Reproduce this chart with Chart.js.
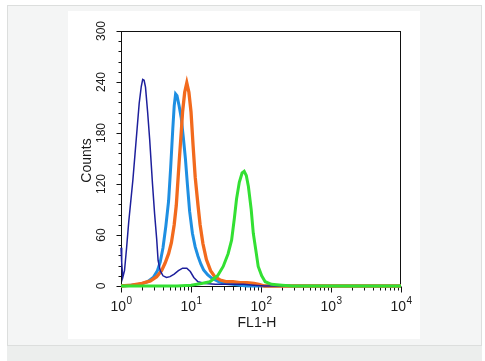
<!DOCTYPE html>
<html>
<head>
<meta charset="utf-8">
<script src="https://cdn.jsdelivr.net/npm/chart.js@4"></script>
<style>
  html, body { margin: 0; padding: 0; background: #ffffff; width: 485px; height: 361px; overflow: hidden; }
  #box { position: absolute; left: 7px; top: 5px; width: 473px; height: 339px; border: 1px solid #dcdedd; background: #f4f5f5; }
  #band { position: absolute; left: 7px; top: 346px; width: 475px; height: 15px; background: #eceeed; }
  #panel { position: absolute; left: 68px; top: 11px; width: 352px; height: 328px; background: #ffffff; }
  canvas { position: absolute; left: 0; top: 0; }
</style>
</head>
<body>
<div id="box"></div>
<div id="band"></div>
<div id="panel"><canvas id="c" width="352" height="328"></canvas></div>
<script>
// ---- axis ticks / labels ----
const xTickValues = [1, 10, 100, 1000, 10000];
const xTickExponents = ['0', '1', '2', '3', '4'];
const yTickValues = [0, 60, 120, 180, 240, 300];
const yMinorStep = 12;
const xTitle = 'FL1-H';
const yTitle = 'Counts';

// ---- series (x given as log10 of FL1-H, y as counts) ----
const navyLog = [0, 0.01, 0.025, 0.05, 0.08, 0.11, 0.14, 0.17, 0.2, 0.23, 0.26, 0.29, 0.31, 0.33, 0.35, 0.38, 0.41, 0.45, 0.48, 0.51, 0.53, 0.56, 0.6, 0.65, 0.7, 0.76, 0.82, 0.88, 0.94, 0.99, 1.04, 1.1, 1.2, 1.35, 1.55, 1.75, 1.9, 2.05, 4];
const navyCounts = [45, 28, 10, 18, 45, 75, 100, 125, 155, 185, 215, 235, 243, 242, 234, 205, 172, 120, 85, 55, 30, 18, 12, 10, 11, 14, 18, 21, 21, 17, 10, 5, 3, 2, 2, 2, 1, 0, 0];

const blueLog = [0, 0.15, 0.27, 0.38, 0.46, 0.52, 0.56, 0.6, 0.64, 0.68, 0.71, 0.74, 0.76, 0.78, 0.8, 0.83, 0.86, 0.89, 0.92, 0.95, 0.98, 1.02, 1.06, 1.1, 1.14, 1.18, 1.24, 1.3, 1.4, 1.5, 1.6, 1.7, 1.8, 4];
const blueCounts = [0, 1, 2, 5, 10, 18, 28, 45, 70, 100, 140, 185, 212, 226, 224, 212, 198, 175, 150, 118, 88, 62, 46, 35, 26, 19, 13, 9, 5, 3, 2, 1, 0, 0];

const orangeLog = [0, 0.15, 0.3, 0.42, 0.51, 0.58, 0.63, 0.68, 0.72, 0.76, 0.79, 0.83, 0.86, 0.88, 0.91, 0.94, 0.97, 1.0, 1.03, 1.06, 1.1, 1.13, 1.17, 1.22, 1.28, 1.34, 1.42, 1.51, 1.6, 1.7, 1.8, 1.9, 1.97, 2.05, 4];
const orangeCounts = [0, 1, 3, 6, 11, 18, 27, 38, 51, 72, 95, 145, 180, 205, 228, 239, 228, 205, 165, 128, 95, 72, 50, 31, 18, 11, 7, 5, 5, 4, 4, 3, 2, 0, 0];

const greenLog = [0, 0.8, 1.0, 1.15, 1.27, 1.38, 1.46, 1.53, 1.58, 1.62, 1.65, 1.69, 1.73, 1.76, 1.79, 1.82, 1.86, 1.89, 1.93, 1.96, 2.01, 2.06, 2.15, 2.3, 2.45, 4];
const greenCounts = [0, 0, 1, 3, 5, 12, 23, 38, 54, 80, 102, 122, 133, 135, 130, 117, 90, 62, 40, 23, 12, 5, 2, 1, 0, 0];

function pts(logs, counts) {
  return logs.map((l, i) => ({ x: Math.pow(10, l), y: counts[i] }));
}

const FONT = "'Liberation Sans', Arial, Helvetica, sans-serif";

const axisPlugin = {
  id: 'axisDecor',
  beforeDatasetsDraw(chart) {
    const { ctx, chartArea: a, scales: { x, y } } = chart;
    const L = Math.round(a.left) + 0.5, R = Math.round(a.right) - 0.5;
    const T = Math.round(a.top) + 0.5, B = Math.round(a.bottom) + 0.5;
    ctx.save();
    ctx.strokeStyle = '#111111';
    ctx.lineWidth = 1;
    ctx.strokeRect(L, T, R - L, B - T);
    ctx.beginPath();
    const yMax = yTickValues[yTickValues.length - 1];
    for (let v = yTickValues[0]; v <= yMax; v += yMinorStep) {
      const py = Math.round(y.getPixelForValue(v)) + 0.5;
      const len = yTickValues.includes(v) ? 5 : 3;
      ctx.moveTo(L - len, py); ctx.lineTo(L, py);
    }
    xTickValues.forEach((d, i) => {
      const px = Math.round(x.getPixelForValue(d)) + 0.5;
      ctx.moveTo(px, B); ctx.lineTo(px, B + 6);
      if (i < xTickValues.length - 1) {
        for (let m = 2; m <= 9; m++) {
          const p = Math.round(x.getPixelForValue(d * m)) + 0.5;
          ctx.moveTo(p, B); ctx.lineTo(p, B + 4);
        }
      }
    });
    ctx.stroke();
    ctx.restore();
  },
  afterDraw(chart) {
    const { ctx, chartArea: a, scales: { x, y } } = chart;
    const L = Math.round(a.left) + 0.5;
    const B = Math.round(a.bottom) + 0.5;
    ctx.save();
    ctx.fillStyle = '#1a1a1a';
    // y tick labels (rotated)
    ctx.font = '12px ' + FONT;
    ctx.textAlign = 'center';
    ctx.textBaseline = 'middle';
    yTickValues.forEach(v => {
      const py = y.getPixelForValue(v);
      ctx.save();
      ctx.translate(L - 20, py);
      ctx.rotate(-Math.PI / 2);
      ctx.fillText(String(v), 0, 0);
      ctx.restore();
    });
    // y title
    ctx.font = '14px ' + FONT;
    ctx.save();
    ctx.translate(L - 34, (a.top + a.bottom) / 2 + 2);
    ctx.rotate(-Math.PI / 2);
    ctx.fillText(yTitle, 0, 0);
    ctx.restore();
    // x tick labels 10^n
    ctx.textAlign = 'left';
    ctx.textBaseline = 'alphabetic';
    xTickValues.forEach((d, i) => {
      const px = x.getPixelForValue(d);
      ctx.font = '14px ' + FONT;
      const wb = ctx.measureText('10').width;
      ctx.font = '10px ' + FONT;
      const ws = ctx.measureText(xTickExponents[i]).width;
      const start = px - (wb + ws) / 2;
      ctx.font = '14px ' + FONT;
      ctx.fillText('10', start, B + 24);
      ctx.font = '10px ' + FONT;
      ctx.fillText(xTickExponents[i], start + wb + 0.5, B + 17);
    });
    // x title
    ctx.font = '14px ' + FONT;
    ctx.textAlign = 'center';
    ctx.fillText(xTitle, (a.left + a.right) / 2 - 4, B + 40);
    ctx.restore();
  }
};

new Chart(document.getElementById('c'), {
  type: 'line',
  data: {
    datasets: [
      { label: 'Green', data: pts(greenLog, greenCounts), borderColor: '#33e033', borderWidth: 3 },
      { label: 'Navy', data: pts(navyLog, navyCounts), borderColor: '#1d1f9c', borderWidth: 1.5 },
      { label: 'Orange', data: pts(orangeLog, orangeCounts), borderColor: '#f26a1d', borderWidth: 3.3 },
      { label: 'Blue', data: pts(blueLog, blueCounts), borderColor: '#1e8fe2', borderWidth: 3 }
    ]
  },
  options: {
    responsive: false,
    animation: false,
    devicePixelRatio: 1,
    layout: { padding: { top: 20, right: 19, left: 0, bottom: 0 } },
    elements: { point: { radius: 0 }, line: { tension: 0, fill: false } },
    datasets: { line: { clip: false } },
    plugins: { legend: { display: false }, tooltip: { enabled: false } },
    scales: {
      x: {
        type: 'logarithmic', min: xTickValues[0], max: xTickValues[xTickValues.length - 1],
        ticks: { display: false }, grid: { display: false }, border: { display: false },
        afterFit: s => { s.height = 53; }
      },
      y: {
        type: 'linear', min: yTickValues[0], max: yTickValues[yTickValues.length - 1],
        ticks: { display: false }, grid: { display: false }, border: { display: false },
        afterFit: s => { s.width = 53; }
      }
    }
  },
  plugins: [axisPlugin]
});
</script>
</body>
</html>
